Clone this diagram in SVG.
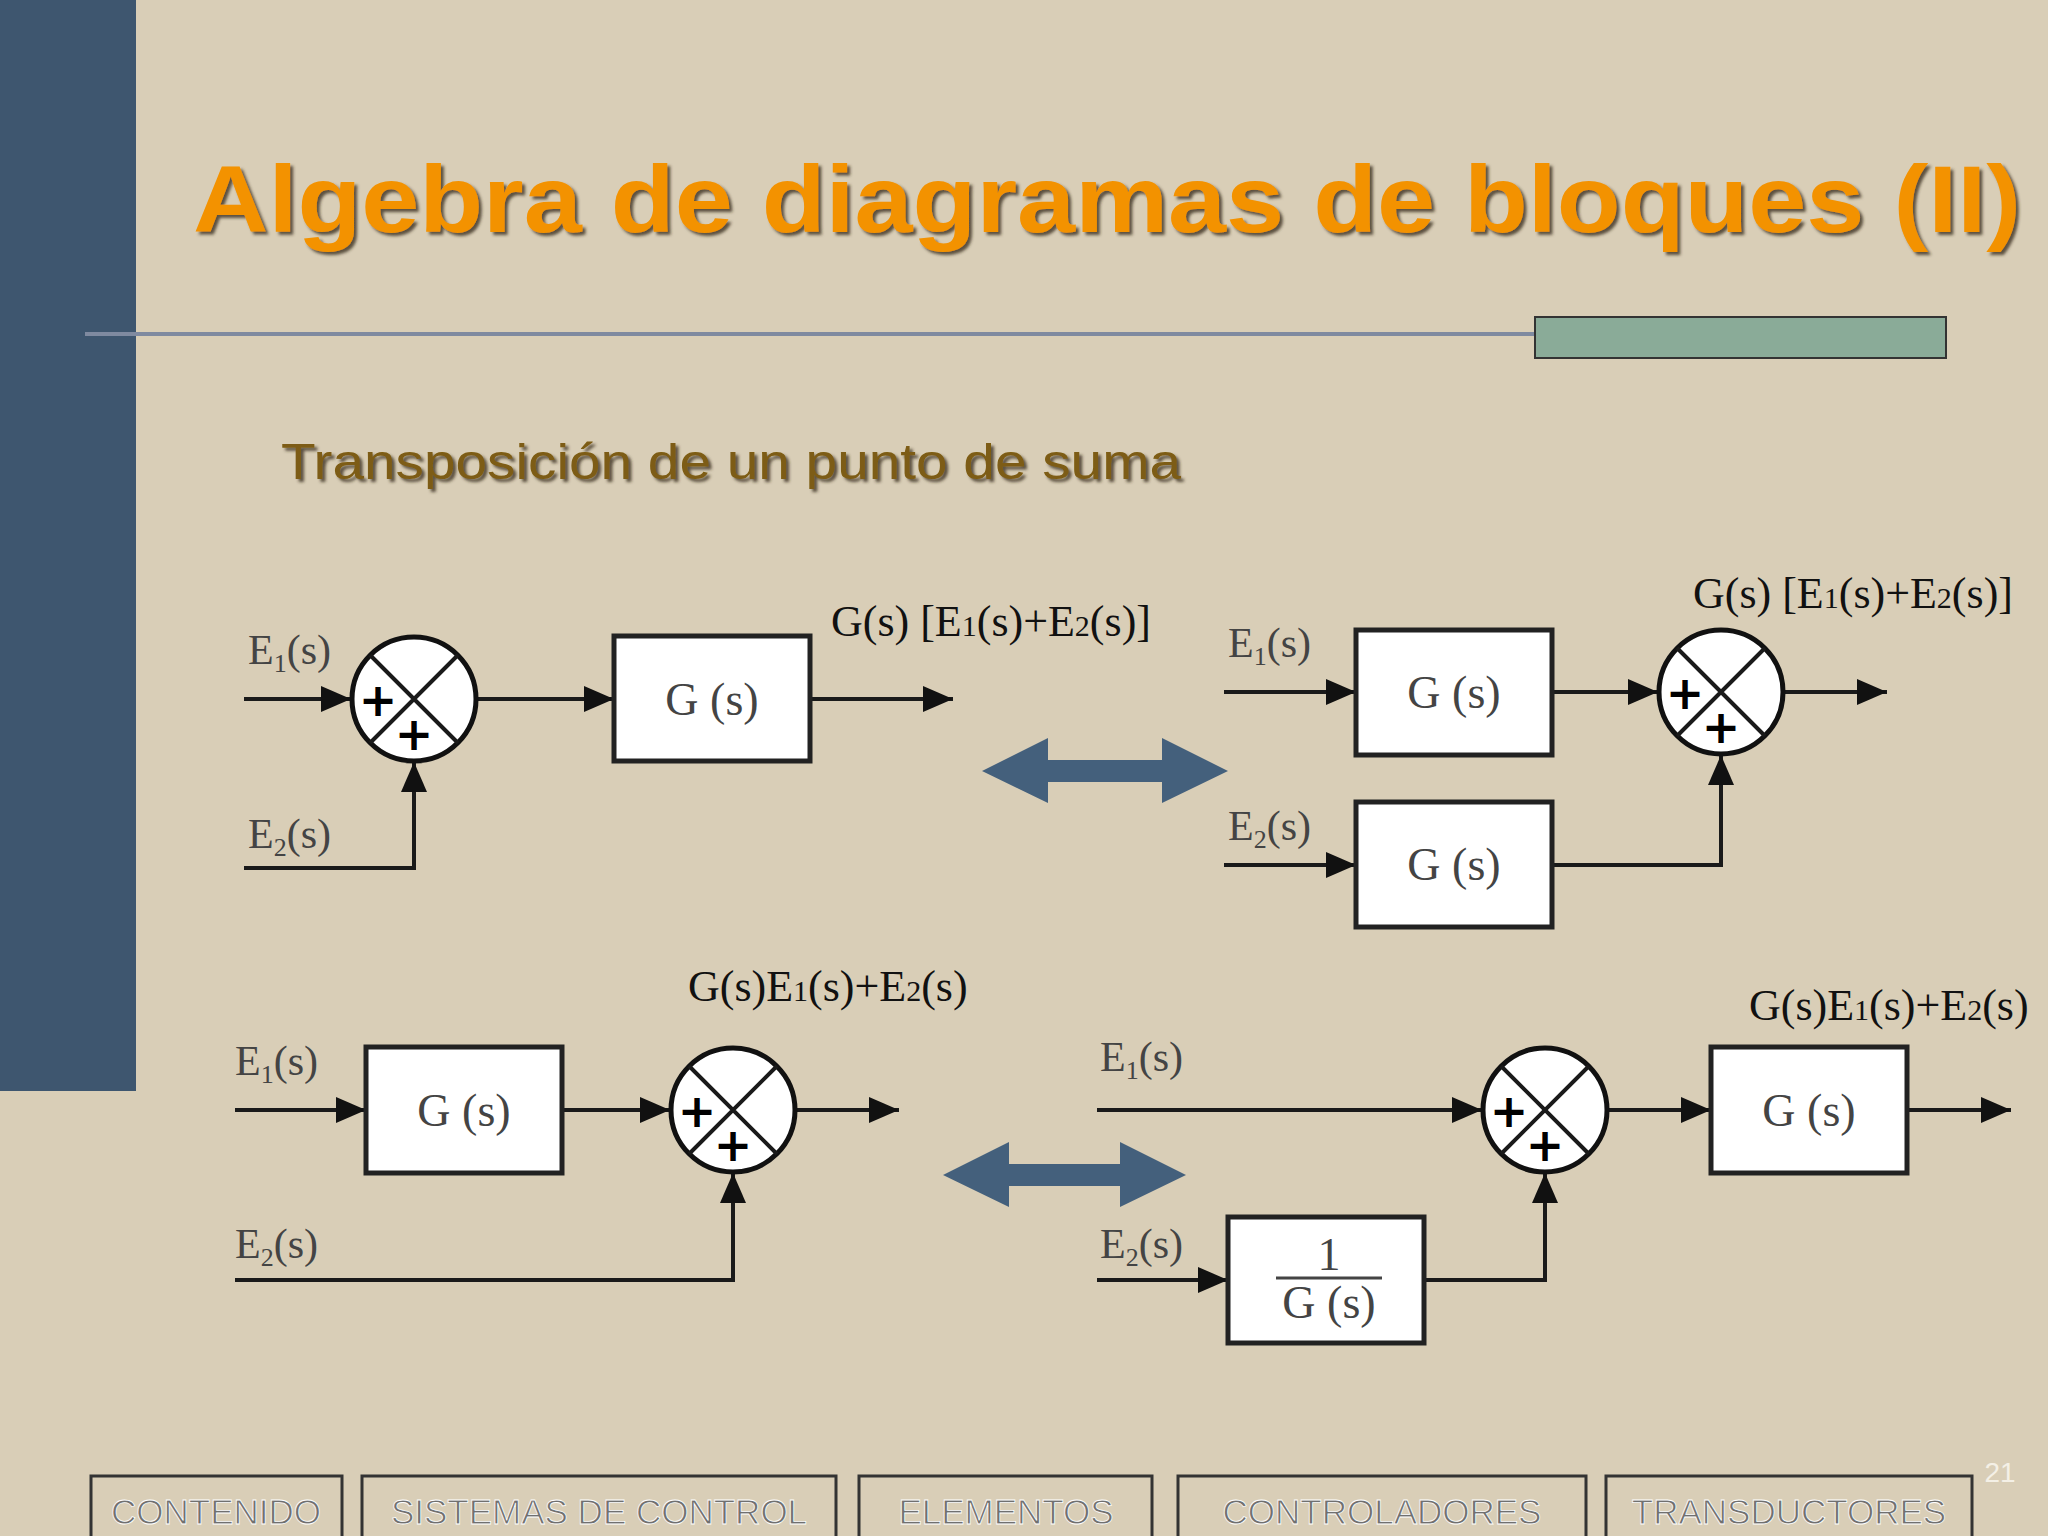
<svg xmlns="http://www.w3.org/2000/svg" width="2048" height="1536" viewBox="0 0 2048 1536">
<defs>
<marker id="ah" markerWidth="30" markerHeight="26" refX="30" refY="13" orient="auto" markerUnits="userSpaceOnUse" viewBox="0 0 30 26"><path d="M0,0 L30,13 L0,26 z" fill="#111"/></marker>
<filter id="sh"><feDropShadow dx="3" dy="3" stdDeviation="1.5" flood-color="#3a3020" flood-opacity="0.8"/></filter>
</defs>
<style>
.w{stroke:#1a1a1a;stroke-width:4;fill:none}
.a{stroke:#1a1a1a;stroke-width:4;fill:none;marker-end:url(#ah)}
.box{fill:#fff;stroke:#222;stroke-width:5}
.sum{fill:#fff;stroke:#111;stroke-width:5}
.bt{font-family:"Liberation Serif",serif;font-size:46px;fill:#444;text-anchor:middle}
.el{font-family:"Liberation Serif",serif;font-size:42px;fill:#444}
.lab{font-family:"Liberation Serif",serif;font-size:44px;fill:#111}
.nav{fill:none;stroke:#333;stroke-width:3}
.nt{font-family:"Liberation Sans",Arial,sans-serif;font-size:35px;fill:#707070;stroke:#fff;stroke-width:0.8;text-anchor:middle}
.dbl{fill:#44607c}
</style>
<rect width="2048" height="1536" fill="#d9ceb7"/>
<rect x="0" y="0" width="136" height="1091" fill="#3e566f"/>
<text x="193" y="232" font-family="Liberation Sans,Arial,sans-serif" font-weight="bold" font-size="94" fill="#f39200" filter="url(#sh)" textLength="1828" lengthAdjust="spacingAndGlyphs">Algebra de diagramas de bloques (II)</text>
<line x1="85" y1="334" x2="1946" y2="334" stroke="#7f8aa0" stroke-width="4"/>
<rect x="1535" y="317" width="411" height="41" fill="#8aab98" stroke="#333" stroke-width="2"/>
<text x="281" y="479" font-family="Liberation Sans,Arial,sans-serif" font-size="50" fill="#7d5c12" filter="url(#sh)" textLength="900" lengthAdjust="spacingAndGlyphs">Transposición de un punto de suma</text>

<g id="connectors">
<line class="a" x1="244" y1="699" x2="351" y2="699"/>
<line class="a" x1="477" y1="699" x2="614" y2="699"/>
<line class="a" x1="810" y1="699" x2="953" y2="699"/>
<polyline class="a" points="244,868 414,868 414,762"/>
<line class="a" x1="1224" y1="692" x2="1356" y2="692"/>
<line class="a" x1="1552" y1="692" x2="1658" y2="692"/>
<line class="a" x1="1784" y1="692" x2="1887" y2="692"/>
<line class="a" x1="1224" y1="865" x2="1356" y2="865"/>
<polyline class="a" points="1552,865 1721,865 1721,755"/>
<line class="a" x1="235" y1="1110" x2="366" y2="1110"/>
<line class="a" x1="562" y1="1110" x2="670" y2="1110"/>
<line class="a" x1="796" y1="1110" x2="899" y2="1110"/>
<polyline class="a" points="235,1280 733,1280 733,1173"/>
<line class="a" x1="1097" y1="1110" x2="1482" y2="1110"/>
<line class="a" x1="1608" y1="1110" x2="1711" y2="1110"/>
<line class="a" x1="1907" y1="1110" x2="2011" y2="1110"/>
<line class="a" x1="1097" y1="1280" x2="1228" y2="1280"/>
<polyline class="a" points="1424,1280 1545,1280 1545,1173"/>
</g>

<g id="d1">
<text class="el" x="248" y="664">E<tspan font-size="26" dy="8">1</tspan><tspan dy="-8">(s)</tspan></text>
<text class="el" x="248" y="848">E<tspan font-size="26" dy="8">2</tspan><tspan dy="-8">(s)</tspan></text>
<g id="s1"><circle class="sum" cx="414" cy="699" r="62"/><path class="w" d="M370,655 L458,743 M458,655 L370,743"/><text x="378" y="716" font-family="DejaVu Sans,sans-serif" font-size="46" font-weight="bold" text-anchor="middle">+</text><text x="414" y="750" font-family="DejaVu Sans,sans-serif" font-size="46" font-weight="bold" text-anchor="middle">+</text></g>
<rect class="box" x="614" y="636" width="196" height="125"/><text class="bt" x="712" y="715">G (s)</text>
<text class="lab" x="831" y="636">G(s) [E<tspan font-size="30">1</tspan>(s)+E<tspan font-size="30">2</tspan>(s)]</text>
</g>

<g id="d2">
<text class="el" x="1228" y="657">E<tspan font-size="26" dy="8">1</tspan><tspan dy="-8">(s)</tspan></text>
<text class="el" x="1228" y="840">E<tspan font-size="26" dy="8">2</tspan><tspan dy="-8">(s)</tspan></text>
<rect class="box" x="1356" y="630" width="196" height="125"/><text class="bt" x="1454" y="708">G (s)</text>
<rect class="box" x="1356" y="802" width="196" height="125"/><text class="bt" x="1454" y="880">G (s)</text>
<g><circle class="sum" cx="1721" cy="692" r="62"/><path class="w" d="M1677,648 L1765,736 M1765,648 L1677,736"/><text x="1685" y="709" font-family="DejaVu Sans,sans-serif" font-size="46" font-weight="bold" text-anchor="middle">+</text><text x="1721" y="743" font-family="DejaVu Sans,sans-serif" font-size="46" font-weight="bold" text-anchor="middle">+</text></g>
<text class="lab" x="1693" y="608">G(s) [E<tspan font-size="30">1</tspan>(s)+E<tspan font-size="30">2</tspan>(s)]</text>
</g>

<g id="arrows">
<path class="dbl" d="M982,771 L1048,738 L1048,760 L1162,760 L1162,738 L1228,771 L1162,803 L1162,782 L1048,782 L1048,803 z"/>
<path class="dbl" d="M943,1175 L1009,1142 L1009,1164 L1120,1164 L1120,1142 L1186,1175 L1120,1207 L1120,1186 L1009,1186 L1009,1207 z"/>
</g>

<g id="d3">
<text class="el" x="235" y="1075">E<tspan font-size="26" dy="8">1</tspan><tspan dy="-8">(s)</tspan></text>
<text class="el" x="235" y="1258">E<tspan font-size="26" dy="8">2</tspan><tspan dy="-8">(s)</tspan></text>
<rect class="box" x="366" y="1047" width="196" height="126"/><text class="bt" x="464" y="1126">G (s)</text>
<g><circle class="sum" cx="733" cy="1110" r="62"/><path class="w" d="M689,1066 L777,1154 M777,1066 L689,1154"/><text x="697" y="1127" font-family="DejaVu Sans,sans-serif" font-size="46" font-weight="bold" text-anchor="middle">+</text><text x="733" y="1161" font-family="DejaVu Sans,sans-serif" font-size="46" font-weight="bold" text-anchor="middle">+</text></g>
<text class="lab" x="688" y="1001">G(s)E<tspan font-size="30">1</tspan>(s)+E<tspan font-size="30">2</tspan>(s)</text>
</g>

<g id="d4">
<text class="el" x="1100" y="1071">E<tspan font-size="26" dy="8">1</tspan><tspan dy="-8">(s)</tspan></text>
<text class="el" x="1100" y="1258">E<tspan font-size="26" dy="8">2</tspan><tspan dy="-8">(s)</tspan></text>
<g><circle class="sum" cx="1545" cy="1110" r="62"/><path class="w" d="M1501,1066 L1589,1154 M1589,1066 L1501,1154"/><text x="1509" y="1127" font-family="DejaVu Sans,sans-serif" font-size="46" font-weight="bold" text-anchor="middle">+</text><text x="1545" y="1161" font-family="DejaVu Sans,sans-serif" font-size="46" font-weight="bold" text-anchor="middle">+</text></g>
<rect class="box" x="1711" y="1047" width="196" height="126"/><text class="bt" x="1809" y="1126">G (s)</text>
<rect class="box" x="1228" y="1217" width="196" height="126"/>
<text class="bt" x="1329" y="1270" font-size="40">1</text>
<line x1="1276" y1="1278" x2="1382" y2="1278" stroke="#444" stroke-width="3"/>
<text class="bt" x="1329" y="1318">G (s)</text>
<text class="lab" x="1749" y="1020">G(s)E<tspan font-size="30">1</tspan>(s)+E<tspan font-size="30">2</tspan>(s)</text>
</g>

<g id="nav">
<rect class="nav" x="91" y="1476" width="251" height="62"/><text class="nt" x="216" y="1524">CONTENIDO</text>
<rect class="nav" x="362" y="1476" width="474" height="62"/><text class="nt" x="599" y="1524">SISTEMAS DE CONTROL</text>
<rect class="nav" x="859" y="1476" width="293" height="62"/><text class="nt" x="1006" y="1524">ELEMENTOS</text>
<rect class="nav" x="1178" y="1476" width="408" height="62"/><text class="nt" x="1382" y="1524">CONTROLADORES</text>
<rect class="nav" x="1606" y="1476" width="366" height="62"/><text class="nt" x="1789" y="1524">TRANSDUCTORES</text>
<text x="2000" y="1482" font-family="Liberation Sans,Arial,sans-serif" font-size="28" fill="#f4f0e6" text-anchor="middle">21</text>
</g>
</svg>
